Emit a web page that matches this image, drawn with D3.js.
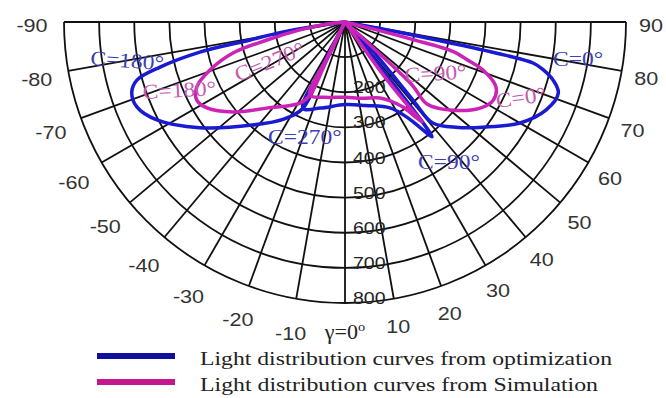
<!DOCTYPE html>
<html>
<head>
<meta charset="utf-8">
<script src="https://cdn.jsdelivr.net/npm/d3@7"></script>
<style>
  body { margin: 0; background: #fff; }
  svg { display: block; }
</style>
</head>
<body>
<div id="container"></div>
<script>
// polar grid
var ringValues = [100, 200, 300, 400, 500, 600, 700, 800];
var ringLabels = [200, 300, 400, 500, 600, 700, 800];
var gammaTicks = [-90, -80, -70, -60, -50, -40, -30, -20, -10, 0, 10, 20, 30, 40, 50, 60, 70, 80, 90];

// optimization curves (blue), gamma in degrees, negative side = C180 / C270
var optC0Gamma = [-26, -26, -26, -32, -42, -54, -62.5, -67.8, -71.8, -74.4, -76.3, -78.3, -79.3, -80.5, -81.5, -83, -85,
                  46, 44, 42, 41, 41, 47, 52.7, 60, 66.4, 71.6, 74.4, 76.5, 77.7, 78.3, 78.8, 79.3, 80];
var optC0Value = [0, 150, 273, 325, 395, 512, 604, 640, 639, 615, 542, 422, 275, 200, 120, 50, 0,
                  0, 100, 200, 300, 381, 440, 494, 575, 625, 640, 615, 580, 548, 465, 300, 150, 0];

var optC90Gamma = [-28, -27, -26, -16, 0, 14, 27.6, 33, 35.5, 37.2, 37.8, 38, 38, 38];
var optC90Value = [0, 140, 273, 255, 235, 245, 276, 323, 370, 410, 350, 230, 110, 0];

// simulation curves (magenta)
var simC0Gamma = [-25.6, -25.6, -25.6, -29, -42.2, -51.2, -58.1, -62.2, -66.3, -70.4, -74.5, -77, -80, -83.7, -86,
                  48, 47.5, 46.8, 45, 50, 57.5, 62.2, 66.7, 70.8, 73, 74.7, 75.5, 76, 76.5];
var simC0Value = [0, 120, 231, 264, 331, 409, 463, 477, 461, 408, 331, 228, 130, 50, 0,
                  0, 100, 262, 330, 390, 456, 477, 468, 416, 360, 320, 200, 90, 0];

var simC90Gamma = [-27, -26.5, -25.6, -15, 0, 12, 24.7, 30, 34.3, 36.5, 37.6, 37, 36, 35.5, 35.5];
var simC90Value = [0, 120, 231, 222, 214, 222, 238, 260, 293, 335, 359, 300, 200, 100, 0];

var legendLabels = ["Light distribution curves from optimization", "Light distribution curves from Simulation"];

var width = 666, height = 398;
var cx = 345, cy = 22;
var blue = "#1a1ad2", pink = "#cc22b8";

var svg = d3.select("#container").append("svg")
  .attr("width", width)
  .attr("height", height);

var r = d3.scaleLinear().domain([0, 800]).range([0, 281]);
// lineRadial angle: gamma 0 points down, positive gamma to the right
var ang = d3.scaleLinear().domain([-90, 90]).range([1.5 * Math.PI, 0.5 * Math.PI]);

function polar(g, px) {
  var a = ang(g);
  return [cx + px * Math.sin(a), cy - px * Math.cos(a)];
}

var plot = svg.append("g").attr("transform", "translate(" + cx + "," + cy + ")");

/* grid */
var grid = plot.append("g")
  .attr("fill", "none")
  .attr("stroke", "#111")
  .attr("stroke-width", 1.8);

grid.selectAll("path.ring")
  .data(ringValues)
  .enter().append("path")
  .attr("class", "ring")
  .attr("d", function(d) {
    var p = d3.path();
    p.arc(0, 0, r(d), 0, Math.PI);
    return p.toString();
  });

grid.selectAll("line.spoke")
  .data(gammaTicks)
  .enter().append("line")
  .attr("class", "spoke")
  .attr("x1", 0).attr("y1", 0)
  .attr("x2", function(d) { return r(800) * Math.sin(ang(d)); })
  .attr("y2", function(d) { return -r(800) * Math.cos(ang(d)); });

/* ring values along the vertical axis */
svg.append("g")
  .selectAll("text")
  .data(ringLabels)
  .enter().append("text")
  .attr("transform", function(d) {
    return "translate(353," + (cy + r(d) + 1) + ") scale(1.22,1)";
  })
  .attr("font-family", "Liberation Sans, Arial, sans-serif")
  .attr("font-size", 16)
  .attr("fill", "#222")
  .text(function(d) { return d; });

/* gamma labels */
var tickLayer = svg.append("g")
  .attr("font-family", "Liberation Sans, Arial, sans-serif")
  .attr("font-size", 18)
  .attr("fill", "#333")
  .attr("text-anchor", "middle");

tickLayer.selectAll("text")
  .data(gammaTicks.filter(function(d) { return d != 0; }))
  .enter().append("text")
  .attr("transform", function(d) {
    var p = polar(d, d > 0 ? 306 : 313);
    return "translate(" + p[0] + "," + (p[1] + 10) + ") scale(1.2,1)";
  })
  .text(function(d) { return d; });

var gLabel = svg.append("text")
  .attr("transform", "translate(345,339) scale(1.1,1)")
  .attr("text-anchor", "middle")
  .attr("font-family", "Liberation Serif, Times New Roman, serif")
  .attr("font-size", 20)
  .attr("fill", "#222");
gLabel.append("tspan").text("\u03b3=0");
gLabel.append("tspan").attr("font-size", 13).attr("dy", -8).text("o");

/* curves */
var radial = d3.lineRadial()
  .angle(function(d) { return ang(d[0]); })
  .radius(function(d) { return r(d[1]); })
  .curve(d3.curveCatmullRom.alpha(0.5));

function pairs(gs, vs) {
  return gs.map(function(g, i) { return [g, vs[i]]; });
}

var curves = [
  { pts: pairs(optC0Gamma, optC0Value), color: blue },
  { pts: pairs(optC90Gamma, optC90Value), color: blue },
  { pts: pairs(simC0Gamma, simC0Value), color: pink },
  { pts: pairs(simC90Gamma, simC90Value), color: pink }
];

plot.selectAll("path.curve")
  .data(curves)
  .enter().append("path")
  .attr("class", "curve")
  .attr("fill", "none")
  .attr("stroke", function(d) { return d.color; })
  .attr("stroke-width", 3.5)
  .attr("stroke-linejoin", "round")
  .attr("d", function(d) { return radial(d.pts); });

/* curve annotations */
var notes = [
  { t: "C=180\u00b0", x: 90, y: 65, rot: 4, c: "#3d3db5" },
  { t: "C=0\u00b0", x: 553, y: 66, rot: 0, c: "#3d3db5" },
  { t: "C=270\u00b0", x: 268, y: 144, rot: 0, c: "#3d3db5" },
  { t: "C=90\u00b0", x: 418, y: 169, rot: 0, c: "#3d3db5" },
  { t: "C=180\u00b0", x: 143, y: 99, rot: -3, c: "#c35bb0" },
  { t: "C=270\u00b0", x: 238, y: 82, rot: -22, c: "#c35bb0" },
  { t: "C=90\u00b0", x: 405, y: 82, rot: -3, c: "#c35bb0" },
  { t: "C=0\u00b0", x: 497, y: 108, rot: -8, c: "#c35bb0" }
];

svg.append("g")
  .selectAll("text")
  .data(notes)
  .enter().append("text")
  .attr("transform", function(d) {
    return "translate(" + d.x + "," + d.y + ") rotate(" + d.rot + ") scale(1.12,1)";
  })
  .attr("font-family", "Liberation Serif, Times New Roman, serif")
  .attr("font-size", 21)
  .attr("fill", function(d) { return d.c; })
  .text(function(d) { return d.t; });

/* legend */
var legend = svg.append("g");
var legendColors = ["#10109c", "#c2188c"];
var legendY = [356, 382];

legend.selectAll("line")
  .data(legendLabels)
  .enter().append("line")
  .attr("x1", 97).attr("x2", 175)
  .attr("y1", function(d, i) { return legendY[i]; })
  .attr("y2", function(d, i) { return legendY[i]; })
  .attr("stroke", function(d, i) { return legendColors[i]; })
  .attr("stroke-width", 6);

legend.selectAll("text")
  .data(legendLabels)
  .enter().append("text")
  .attr("x", 200)
  .attr("y", function(d, i) { return legendY[i] + 9; })
  .attr("font-family", "Liberation Serif, Times New Roman, serif")
  .attr("font-size", 19)
  .attr("fill", "#222")
  .attr("textLength", function(d, i) { return i == 0 ? 412 : 398; })
  .attr("lengthAdjust", "spacingAndGlyphs")
  .text(function(d) { return d; });
</script>
</body>
</html>
